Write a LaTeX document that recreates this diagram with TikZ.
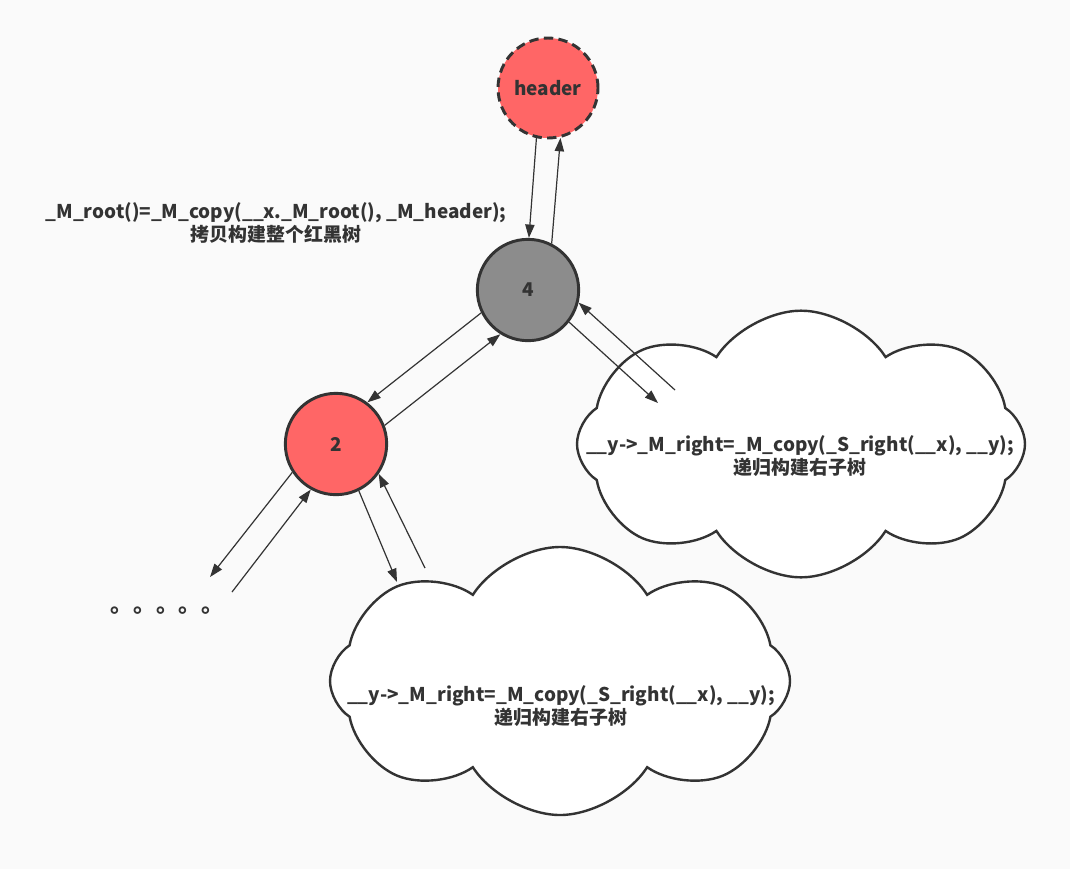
\documentclass[tikz,border=0pt]{standalone}
\usepackage{fontspec}
\setmainfont{Noto Sans CJK SC}
\usetikzlibrary{arrows.meta,shapes.symbols}
\definecolor{nodered}{HTML}{FF6666}
\definecolor{nodegray}{HTML}{8C8C8C}
\definecolor{inkgray}{HTML}{333333}
\definecolor{paper}{HTML}{FAFAFA}
\tikzset{
    every node/.style={font=\bfseries\fontsize{14.2}{17.5}\selectfont,text=inkgray},
    rbnode/.style={circle,draw=inkgray,line width=2.2pt,minimum size=76pt,inner sep=0pt},
    rednode/.style={rbnode,fill=nodered},
    blacknode/.style={rbnode,fill=nodegray},
    bubble/.style={cloud,cloud puffs=8,cloud puff arc=115,cloud ignores aspect,draw=inkgray,line width=1.8pt,fill=white,inner sep=0pt},
    codetext/.style={align=center},
    every edge/.style={draw=inkgray,line width=0.9pt,-{Triangle[length=10pt,width=7pt]}}
}
\begin{document}
\begin{tikzpicture}[x=0.75pt,y=-0.75pt]
\fill[paper] (0,0) rectangle (1070,869);
\useasboundingbox (0,0) rectangle (1070,869);

% tree nodes
\node[rednode,dash pattern=on 7pt off 4pt,minimum size=75pt] (hdr) at (548,88) {header};
\node[blacknode] (n4) at (528,290) {4};
\node[rednode] (n2) at (336,444) {2};

\node[codetext] (roottext) at (276,223)
    {\_M\_root()=\_M\_copy(\_\_x.\_M\_root(), \_M\_header);\\拷贝构建整个红黑树};

% recursive calls
\node[bubble,minimum width=336pt,minimum height=200pt] (rcloud) at (801,444) {};
\node[codetext] (rtext) at (800,456)
    {\_\_y->\_M\_right=\_M\_copy(\_S\_right(\_\_x), \_\_y);\\递归构建右子树};
\node[bubble,minimum width=345pt,minimum height=201pt] (lcloud) at (560,681) {};
\node[codetext] (ltext) at (561,706)
    {\_\_y->\_M\_right=\_M\_copy(\_S\_right(\_\_x), \_\_y);\\递归构建右子树};

\node[anchor=base west,font=\bfseries\fontsize{17}{17}\selectfont] (dots) at (106,612) {。。。。。};

\coordinate (dotsin) at (210,577);
\coordinate (dotsout) at (232,592);
\coordinate (lcin) at (397,582);
\coordinate (lcout) at (425,568);
\coordinate (rcin) at (658,403);
\coordinate (rcout) at (675,390);

\draw (hdr.-103) edge (n4.89)
      (n4.63) edge (hdr.-76);
\draw (n4.-154) edge (n2.53)
      (n2.21) edge (n4.-122);
\draw (n2.-147) edge (dotsin)
      (dotsout) edge (n2.-119);
\draw (n2.-64) edge (lcin)
      (lcout) edge (n2.-35);
\draw (n4.-38) edge (rcin)
      (rcout) edge (n4.-14);
\end{tikzpicture}
\end{document}
